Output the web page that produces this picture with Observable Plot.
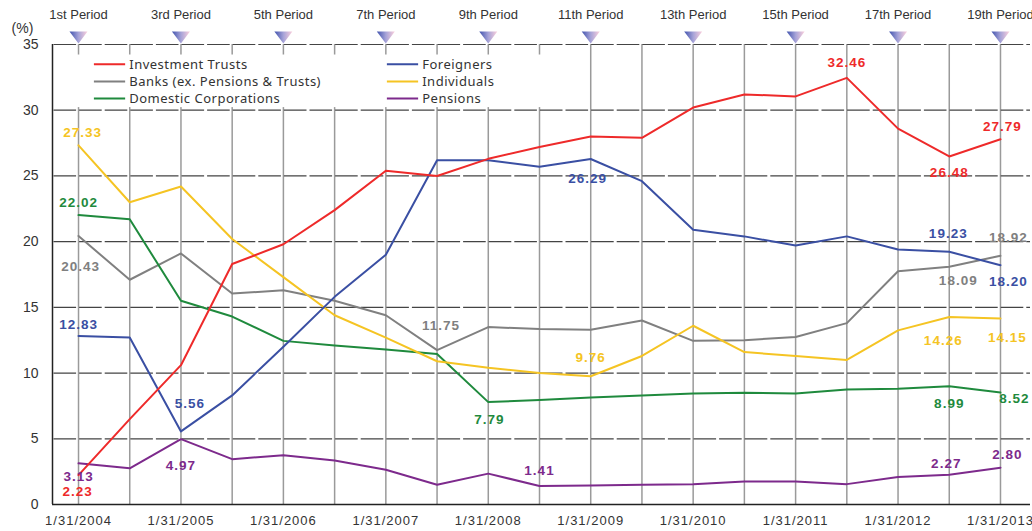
<!DOCTYPE html>
<html><head><meta charset="utf-8">
<script src="https://cdn.jsdelivr.net/npm/d3@7"></script>
<script src="https://cdn.jsdelivr.net/npm/@observablehq/plot@0.6"></script>
<style>
body{margin:0;background:#fff}
#chart svg{display:block;overflow:visible}
</style>
</head><body><div id="chart"></div>
<script>
// ---------- data ----------
const dateLabels = ["1/31/2004","1/31/2005","1/31/2006","1/31/2007","1/31/2008","1/31/2009","1/31/2010","1/31/2011","1/31/2012","1/31/2013"];
const periodLabels = ["1st Period","3rd Period","5th Period","7th Period","9th Period","11th Period","13th Period","15th Period","17th Period","19th Period"];
const seriesNames = ["Investment Trusts","Foreigners","Banks (ex. Pensions & Trusts)","Individuals","Domestic Corporations","Pensions"];
const seriesColors = ["#ee2a2a","#3a4fa3","#808080","#f5c423","#1f8a3d","#7d2a8c"];

const investmentTrusts = [2.23,6.5,10.6,18.3,19.8,22.4,25.4,25.0,26.3,27.2,28.0,27.9,30.2,31.2,31.05,32.46,28.6,26.48,27.79];
const foreigners       = [12.83,12.7,5.56,8.3,12.0,15.8,19.0,26.2,26.2,25.7,26.29,24.6,20.9,20.4,19.7,20.4,19.4,19.23,18.20];
const banks            = [20.43,17.1,19.1,16.05,16.3,15.5,14.4,11.75,13.5,13.35,13.3,14.0,12.45,12.5,12.75,13.8,17.75,18.09,18.92];
const individuals      = [27.33,23.0,24.2,20.2,17.3,14.4,12.7,10.9,10.4,10.0,9.76,11.3,13.6,11.6,11.3,11.0,13.25,14.26,14.15];
const domesticCorps    = [22.02,21.7,15.5,14.3,12.45,12.1,11.8,11.45,7.79,7.95,8.15,8.3,8.45,8.5,8.45,8.75,8.8,8.99,8.52];
const pensions         = [3.13,2.75,4.97,3.45,3.75,3.35,2.65,1.5,2.35,1.41,1.45,1.5,1.55,1.75,1.75,1.55,2.1,2.27,2.80];
const seriesValues = [investmentTrusts, foreigners, banks, individuals, domesticCorps, pensions];

// labelled points: [series index, point index]
const labelled = [
  [0,0],[0,15],[0,17],[0,18],
  [1,0],[1,2],[1,10],[1,17],[1,18],
  [2,0],[2,7],[2,17],[2,18],
  [3,0],[3,10],[3,17],[3,18],
  [4,0],[4,8],[4,17],[4,18],
  [5,0],[5,2],[5,9],[5,17],[5,18]
];
// label offsets in pixels (dx, dy) matching the order above
const labelOffsets = [
  [-1,16],[0,-15],[0,16],[2,-13],
  [0,-11],[9,-28],[-3,20],[-1,-18],[8,16],
  [2,31],[4,-24],[9,14],[8,-18],
  [4,-13],[0,-19],[-6,24],[7,19],
  [0,-12],[1,18],[0,17],[14,6],
  [0,13],[0,26],[0,-15],[-3,-11],[7,-13]
];

// ---------- build ----------
const n = investmentTrusts.length;
const idx = d3.range(n);
const rows = seriesNames.flatMap((s, k) => seriesValues[k].map((v, i) => ({series: s, k, i, v})));
const xDomain = [-0.508, 18.586];
const labelFont = "Liberation Sans, Arial, sans-serif";
const legendFont = "'Noto Sans', 'DejaVu Sans', sans-serif";

const dateTicks = dateLabels.map((_, j) => j * 2);

const downTriangle = {
  draw(ctx) { ctx.moveTo(-9, -6); ctx.lineTo(9, -6); ctx.lineTo(0, 6); ctx.closePath(); }
};

// legend layout (data coordinates)
const legendItems = seriesNames.map((s, k) => ({s, k, col: k % 2, row: Math.floor(k / 2)}));
const legCols = [[0.31, 0.92, 0.99], [6.03, 6.64, 6.71]];
const legRows = [33.49, 32.19, 30.9];

const marks = [
  // vertical grid
  Plot.ruleX(idx, {x: d => d, y1: 0, y2: 35, stroke: "#9a9a9a", strokeWidth: 1.5}),
  // horizontal grid (dashed)
  Plot.ruleY([5,10,15,20,25,30,35], {stroke: "#444", strokeWidth: 1.2, strokeDasharray: "22.6,3", strokeDashoffset: -1.5}),
  // legend background
  Plot.rect([0], {x1: -0.49, x2: 9.4, y1: 30.2, y2: 34.2, fill: "white"}),
  Plot.ruleY(legendItems, {y: d => legRows[d.row], x1: d => legCols[d.col][0], x2: d => legCols[d.col][1], stroke: d => seriesColors[d.k], strokeWidth: 2}),
  Plot.text(legendItems, {y: d => legRows[d.row], x: d => legCols[d.col][2], text: d => d.s, textAnchor: "start", fill: "#333", fontSize: 13, fontFamily: legendFont, className: "legtext"}),
  // axis lines
  Plot.ruleY([0], {stroke: "#222", strokeWidth: 1.5}),
  Plot.ruleX([xDomain[0]], {y1: 0, y2: 35, stroke: "#222", strokeWidth: 1.5}),
  // series lines
  ...[2,4,3,5,1,0].map(k => Plot.line(rows.filter(r => r.k === k), {x: "i", y: "v", stroke: seriesColors[k], strokeWidth: 2})),
  // value labels
  ...labelled.map(([k, i], j) => Plot.text([{k, i, v: seriesValues[k][i]}], {
    x: "i", y: "v", text: d => d.v.toFixed(2), dx: labelOffsets[j][0], dy: labelOffsets[j][1],
    fill: seriesColors[k], fontWeight: "bold", fontSize: 13.5, fontFamily: labelFont, className: "vlabel"
  })),
  // period markers
  Plot.dot(dateTicks, {x: d => d, frameAnchor: "top", dy: -7, symbol: downTriangle, fill: "url(#periodGrad)", stroke: null, r: 5}),
  Plot.text(dateTicks, {x: d => d, frameAnchor: "top", lineAnchor: "middle", textAnchor: "middle", dy: -30, text: (d, j) => periodLabels[j], fill: "#333", fontSize: 13, fontFamily: labelFont}),
  Plot.text(["(%)"], {frameAnchor: "top-left", lineAnchor: "middle", textAnchor: "middle", dx: -30, dy: -16, text: d => d, fill: "#333", fontSize: 14, fontFamily: labelFont}),
  Plot.axisY({ticks: [0,5,10,15,20,25,30,35], tickSize: 0, tickPadding: 14, label: null, fontSize: 14, fontFamily: labelFont, color: "#333"}),
  Plot.axisX({ticks: dateTicks, tickFormat: d => dateLabels[d / 2], tickSize: 0, tickPadding: 11, label: null, fontSize: 13, fontFamily: labelFont, color: "#333", className: "xdates"})
];

const chart = Plot.plot({
  width: 1032, height: 531,
  marginLeft: 52, marginRight: 2, marginTop: 44, marginBottom: 27,
  x: {type: "linear", domain: xDomain},
  y: {domain: [0, 35]},
  style: {background: "white", fontFamily: labelFont},
  marks
});

// gradient for period markers + spacing tweaks
const ns = "http://www.w3.org/2000/svg";
const defs = document.createElementNS(ns, "defs");
defs.innerHTML = '<linearGradient id="periodGrad" x1="0" x2="1" y1="0" y2="0"><stop offset="0" stop-color="#3f52ad"/><stop offset="0.5" stop-color="#a6a3d8"/><stop offset="1" stop-color="#fbd0dc"/></linearGradient>';
chart.insertBefore(defs, chart.firstChild);
const st = document.createElementNS(ns, "style");
st.textContent = ".vlabel text{letter-spacing:1px} .xdates text{letter-spacing:1px} .legtext text{letter-spacing:0.5px}";
chart.appendChild(st);
document.getElementById("chart").appendChild(chart);
</script>
</body></html>
